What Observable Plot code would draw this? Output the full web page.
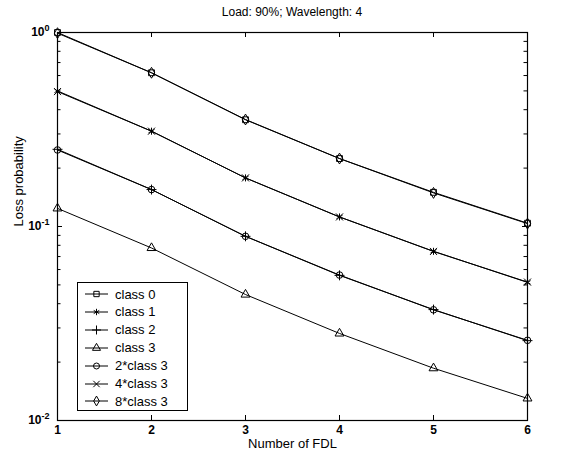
<!DOCTYPE html>
<html><head><meta charset="utf-8">
<script src="https://cdn.jsdelivr.net/npm/d3@7"></script>
<script src="https://cdn.jsdelivr.net/npm/@observablehq/plot@0.6"></script>
<style>
body{margin:0;background:#fff;font-family:"Liberation Sans",Arial,Helvetica,sans-serif;}
#wrap{position:relative;width:562px;height:456px;overflow:hidden;}
#title{height:22px;line-height:24px;font-size:12px;text-align:center;margin-left:57px;width:470px;color:#000;}
#legend{position:absolute;left:77px;top:282px;width:109px;height:127px;border:1px solid #000;background:#fff;}
.row{position:absolute;left:0;height:18px;display:flex;align-items:center;font-size:13px;}
.row svg{display:block;}
</style></head>
<body>
<div id="wrap">
<div id="title">Load: 90%; Wavelength: 4</div>
<div id="chart"></div>
<div id="legend"></div>
</div>
<script>
// ---- data ----
const fdl = [1, 2, 3, 4, 5, 6];
const class0 = [1.0, 0.62, 0.355, 0.224, 0.150, 0.104];
const class1 = [0.50, 0.31, 0.178, 0.112, 0.0745, 0.0515];
const class2 = [0.25, 0.155, 0.089, 0.056, 0.0373, 0.0258];
const class3 = [0.124, 0.0775, 0.0446, 0.0281, 0.0186, 0.0130];
const class3x2 = [0.248, 0.155, 0.089, 0.0562, 0.0372, 0.0259];
const class3x4 = [0.496, 0.31, 0.178, 0.112, 0.0744, 0.0517];
const class3x8 = [0.992, 0.62, 0.356, 0.224, 0.149, 0.1035];
const seriesNames = ["class 0", "class 1", "class 2", "class 3", "2*class 3", "4*class 3", "8*class 3"];
const xTicks = [1, 2, 3, 4, 5, 6];
const yMajor = [0.01, 0.1, 1];
const yMinor = [0.02,0.03,0.04,0.05,0.06,0.07,0.08,0.09,0.2,0.3,0.4,0.5,0.6,0.7,0.8,0.9];

const seriesValues = [class0, class1, class2, class3, class3x2, class3x4, class3x8];
const symbols = ["square", "asterisk", "plus", "triangle", "circle", "times", "diamond"];
const rows = [];
seriesNames.forEach((name, i) => fdl.forEach((x, j) => rows.push({series: name, x, y: seriesValues[i][j], sym: symbols[i]})));

const W = 562, H = 434, ml = 57, mr = 35, mt = 10, mb = 36;
const pw = W - ml - mr, ph = H - mt - mb;

const lineMarks = seriesNames.map((name, i) =>
  Plot.line(rows.filter(r => r.series === name), {x: "x", y: "y", stroke: "black", strokeWidth: 1}));
const dotMarks = seriesNames.map((name, i) =>
  Plot.dot(rows.filter(r => r.series === name), {x: "x", y: "y", symbol: () => symbols[i], r: 3.3, stroke: "black", fill: "none", strokeWidth: 1}));

const plot = Plot.plot({
  width: W, height: H,
  marginLeft: ml, marginRight: mr, marginTop: mt, marginBottom: mb,
  style: {fontFamily: '"Liberation Sans", Arial, sans-serif', color: "black", background: "white"},
  x: {domain: [1, 6]},
  y: {type: "log", domain: [0.01, 1]},
  symbol: {type: "identity"},
  marks: [
    Plot.axisX({ticks: xTicks, tickSize: 0, tickPadding: 5, fontSize: 12, fontWeight: "bold", label: null, tickFormat: d => String(d)}),
    Plot.axisY({ticks: yMajor, tickSize: 0, tickPadding: 8, fontSize: 12, fontWeight: "bold", label: null, tickFormat: d => "10^" + Math.round(Math.log10(d))}),
    // inward ticks
    Plot.tickX(xTicks, {x: d => d, insetTop: ph - 5, stroke: "black"}),
    Plot.tickX(xTicks, {x: d => d, insetBottom: ph - 5, stroke: "black"}),
    Plot.tickY(yMajor, {y: d => d, insetRight: pw - 5, stroke: "black"}),
    Plot.tickY(yMajor, {y: d => d, insetLeft: pw - 5, stroke: "black"}),
    Plot.tickY(yMinor, {y: d => d, insetRight: pw - 3.5, stroke: "black"}),
    Plot.tickY(yMinor, {y: d => d, insetLeft: pw - 3.5, stroke: "black"}),
    ...lineMarks,
    ...dotMarks,
    Plot.frame({stroke: "black", strokeWidth: 1.2}),
    Plot.text(["Number of FDL"], {frameAnchor: "bottom", text: d => d, dy: 23, fontSize: 13, lineAnchor: "middle"}),
    Plot.text(["Loss probability"], {frameAnchor: "left", text: d => d, dx: -39, rotate: -90, fontSize: 13, lineAnchor: "middle"})
  ]
});
document.getElementById("chart").appendChild(plot);

// superscript exponents on y tick labels
d3.select(plot).selectAll('g[aria-label="y-axis tick label"] text').each(function() {
  const t = d3.select(this);
  const s = t.text();
  if (s.startsWith("10^")) {
    const e = s.slice(3);
    t.text("10");
    t.append("tspan").attr("dy", "-0.55em").attr("font-size", "9px").text(e);
  }
});

// legend
const leg = d3.select("#legend");
seriesNames.forEach((name, i) => {
  const row = leg.append("div").attr("class", "row").style("top", (2 + i * 17.9) + "px");
  const svg = row.append("svg").attr("width", 36).attr("height", 18);
  svg.append("line").attr("x1", 7).attr("x2", 30).attr("y1", 9).attr("y2", 9).attr("stroke", "black");
  const typ = {square: d3.symbolSquare, asterisk: d3.symbolAsterisk, plus: d3.symbolPlus, triangle: d3.symbolTriangle, circle: d3.symbolCircle, times: d3.symbolTimes, diamond: d3.symbolDiamond}[symbols[i]];
  svg.append("path").attr("transform", "translate(18.5,9)").attr("d", d3.symbol(typ, Math.PI * 3.0 * 3.0)()).attr("fill", "none").attr("stroke", "black");
  row.append("span").style("margin-left", "1px").text(name);
});
</script>
</body></html>
